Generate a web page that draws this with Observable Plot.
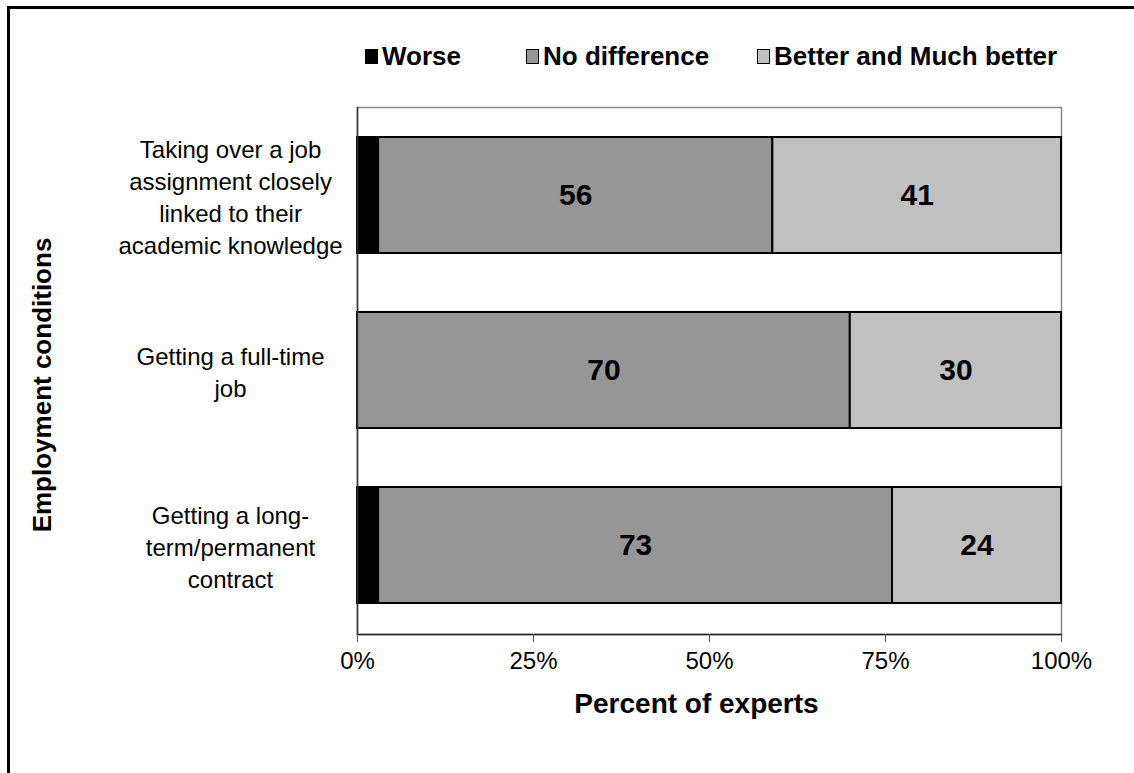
<!DOCTYPE html>
<html>
<head>
<meta charset="utf-8">
<script src="https://cdn.jsdelivr.net/npm/d3@7"></script>
<script src="https://cdn.jsdelivr.net/npm/@observablehq/plot@0.6"></script>
<style>
  html, body { margin: 0; padding: 0; background: #fff; overflow: hidden; width: 1134px; height: 773px; }
  body { font-family: "Liberation Sans", Arial, sans-serif; position: relative; }
  #border { position: absolute; left: 7px; top: 6px; width: 1200px; height: 900px; border: 3px solid #000; pointer-events: none; z-index: 5; }
  #legend { height: 80px; position: relative; }
  .item { position: absolute; top: 41px; display: flex; align-items: center; font-weight: bold; font-size: 26px; color: #000; white-space: nowrap; }
  .sw { width: 13px; height: 15px; border: 1.5px solid #000; margin-right: 4px; box-sizing: border-box; }
  #chart svg { display: block; }
</style>
</head>
<body>
<div id="border"></div>
<div id="legend"></div>
<div id="chart"></div>
<script>
const categories = [
  "Taking over a job assignment closely linked to their academic knowledge",
  "Getting a full-time job",
  "Getting a long-term/permanent contract"
];
const categoryLabels = [
  "Taking over a job\nassignment closely\nlinked to their\nacademic knowledge",
  "Getting a full-time\njob",
  "Getting a long-\nterm/permanent\ncontract"
];
const seriesNames = ["Worse", "No difference", "Better and Much better"];
const seriesColors = ["#000000", "#969696", "#c0c0c0"];
const worse = [3, 0, 3];
const noDifference = [56, 70, 73];
const better = [41, 30, 24];
const xTicks = [0, 25, 50, 75, 100];
const legendLeft = [365, 526, 757];

const seriesValues = [worse, noDifference, better];
const rows = [];
categories.forEach((c, i) => {
  seriesNames.forEach((s, j) => {
    const v = seriesValues[j][i];
    if (v > 0) rows.push({cat: c, series: s, value: v});
  });
});

// legend
const legend = document.getElementById("legend");
seriesNames.forEach((s, j) => {
  const it = document.createElement("div");
  it.className = "item";
  it.style.left = legendLeft[j] + "px";
  const sw = document.createElement("div");
  sw.className = "sw";
  sw.style.background = seriesColors[j];
  const t = document.createElement("span");
  t.textContent = s;
  it.appendChild(sw); it.appendChild(t);
  legend.appendChild(it);
});

const labelMap = new Map(categories.map((c, i) => [c, categoryLabels[i]]));

const chart = Plot.plot({
  width: 1134,
  height: 693,
  marginTop: 27,
  marginBottom: 139,
  marginLeft: 357,
  marginRight: 73,
  style: {fontFamily: "'Liberation Sans', Arial, sans-serif", background: "none", color: "#000"},
  x: {domain: [0, 100], ticks: xTicks},
  y: {domain: categories, paddingInner: 0.335, paddingOuter: 0.1675},
  color: {domain: seriesNames, range: seriesColors},
  marks: [
    Plot.frame({stroke: "#888", strokeWidth: 1.5}),
    Plot.barX(rows, Plot.stackX({x: "value", y: "cat", z: "series", order: seriesNames, fill: "series", stroke: "#000", strokeWidth: 2})),
    Plot.text(rows, Plot.stackX({x: "value", y: "cat", z: "series", order: seriesNames, text: d => d.series === "Worse" ? null : d.value, fontSize: 30, fontWeight: "bold", fill: "#000"})),
    Plot.ruleX([0], {stroke: "#333", strokeWidth: 1.5}),
    Plot.frame({anchor: "bottom", stroke: "#222", strokeWidth: 1.5}),
    Plot.axisX(xTicks, {tickSize: 8, tickPadding: 9, tickFormat: d => d + "%", fontSize: 24, label: null, stroke: "#555"}),
    Plot.axisY({tickSize: 0, tickPadding: 127, tickFormat: d => labelMap.get(d), fontSize: 24, lineHeight: 1.33, label: null, textAnchor: "middle"}),
    Plot.text(["Percent of experts"], {frameAnchor: "bottom", dx: -13, dy: 70, lineAnchor: "middle", textAnchor: "middle", fontWeight: "bold", fontSize: 28, fill: "#000"}),
    Plot.text(["Employment conditions"], {frameAnchor: "left", dx: -315, dy: 14, rotate: -90, textAnchor: "middle", lineAnchor: "middle", fontWeight: "bold", fontSize: 26, fill: "#000"})
  ]
});
document.getElementById("chart").appendChild(chart);
</script>
</body>
</html>
